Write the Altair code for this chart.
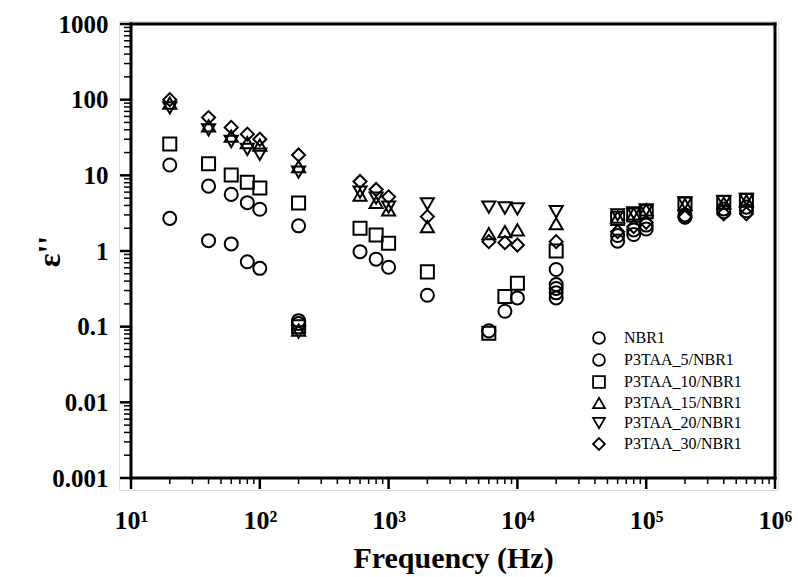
import altair as alt
import pandas as pd

SERIES = ["NBR1", "P3TAA_5/NBR1", "P3TAA_10/NBR1", "P3TAA_15/NBR1", "P3TAA_20/NBR1", "P3TAA_30/NBR1"]
SHAPES = ["circle", "circle", "square", "triangle-up", "triangle-down", "diamond"]

nbr1_f = [20, 40, 60, 80, 100, 200, 20000, 20000, 60000, 80000, 100000, 200000, 400000, 600000]
nbr1_v = [2.7, 1.37, 1.24, 0.72, 0.59, 0.12, 0.36, 0.28, 1.35, 1.65, 1.95, 2.8, 3.3, 3.4]

p5_f = [20, 40, 60, 80, 100, 200, 200, 600, 800, 1000, 2000, 6000, 8000, 10000, 20000, 20000, 20000,
        60000, 80000, 100000, 200000, 400000, 600000]
p5_v = [13.7, 7.2, 5.6, 4.35, 3.56, 2.15, 0.11, 0.98, 0.78, 0.61, 0.26, 0.088, 0.16, 0.24, 0.57, 0.32, 0.24,
        1.6, 1.9, 2.2, 3.0, 3.6, 3.8]

p10_f = [20, 40, 60, 80, 100, 200, 200, 600, 800, 1000, 2000, 6000, 8000, 10000, 20000,
         60000, 80000, 100000, 200000, 400000, 600000]
p10_v = [26, 14.2, 10.1, 8.1, 6.8, 4.3, 0.1, 2.0, 1.63, 1.27, 0.53, 0.082, 0.25, 0.375, 1.0,
         2.7, 3.0, 3.3, 4.2, 4.4, 4.7]

p15_f = [20, 40, 60, 80, 100, 200, 200, 600, 800, 1000, 2000, 6000, 8000, 10000, 20000,
         60000, 80000, 100000, 200000, 400000, 600000]
p15_v = [90, 45, 33, 27, 25, 13, 0.09, 5.5, 4.4, 3.5, 2.1, 1.7, 1.8, 1.9, 2.3,
         2.8, 3.1, 3.5, 4.1, 4.3, 4.6]

p20_f = [20, 40, 60, 80, 100, 200, 200, 600, 800, 1000, 2000, 6000, 8000, 10000, 20000,
         60000, 80000, 100000, 200000, 400000, 600000]
p20_v = [78, 40, 28, 22, 19, 11, 0.085, 6.0, 5.0, 3.8, 4.2, 3.8, 3.7, 3.6, 3.3,
         3.0, 3.2, 3.5, 4.3, 4.5, 4.8]

p30_f = [20, 40, 60, 80, 100, 200, 600, 800, 1000, 2000, 6000, 8000, 10000, 20000,
         60000, 80000, 100000, 200000, 400000, 600000]
p30_v = [100, 58, 43, 35, 30, 18.6, 8.3, 6.5, 5.2, 2.85, 1.33, 1.29, 1.2, 1.33,
         1.8, 2.1, 2.4, 2.8, 3.1, 3.1]

rows = []
for name, fs, vs in zip(SERIES, [nbr1_f, p5_f, p10_f, p15_f, p20_f, p30_f],
                        [nbr1_v, p5_v, p10_v, p15_v, p20_v, p30_v]):
    for f, v in zip(fs, vs):
        rows.append({"freq": f, "eps": v, "sample": name})
df = pd.DataFrame(rows)

X_DOMAIN = [10, 1e6]
Y_DOMAIN = [0.001, 1000]
x_major = [10 ** k for k in range(1, 7)]
x_minor = [a * 10 ** k for k in range(1, 6) for a in range(2, 10)]
y_major = [round(10.0 ** k, 6) for k in range(-3, 4)]
y_minor = [round(a * 10.0 ** k, 6) for k in range(-3, 3) for a in range(2, 10)]
SUP = ["⁰", "¹", "²", "³", "⁴", "⁵", "⁶"]

FONT = "Liberation Serif"
# plot frame inside a slightly larger view so that outward ticks stay inside the view
PW, PH = 644, 454          # frame size
OL, OT, OB, OR = 12, 3, 12, 3   # room for ticks / frame stroke
VW, VH = PW + OL + OR, PH + OT + OB
xs = alt.Scale(type="log", domain=X_DOMAIN, nice=False, range=[OL, OL + PW])
ys = alt.Scale(type="log", domain=Y_DOMAIN, nice=False, range=[OT + PH, OT])

x_axis = alt.Axis(
    values=x_major, orient="bottom", ticks=False, domain=False,
    labelExpr="'10' + " + str(SUP) + "[round(log(datum.value)/LN10)]",
    labelFlush=False, labelOverlap=False, grid=False,
    labelFont=FONT, labelFontWeight="bold", labelFontSize=26, labelColor="black", labelPadding=17,
    title="Frequency (Hz)", titleFont=FONT, titleFontWeight="bold", titleFontSize=30, titleColor="black",
    titleY=77, titleBaseline="alphabetic",
)
y_axis = alt.Axis(
    values=y_major, orient="left", ticks=False, domain=False,
    labelExpr="format(datum.value, '~g')",
    labelFlush=False, labelOverlap=False, grid=False,
    labelFont=FONT, labelFontWeight="bold", labelFontSize=25, labelColor="black", labelPadding=11,
    title="ε''", titleFont=FONT, titleFontWeight="bold", titleFontSize=32, titleColor="black",
    titleAngle=270, titleX=-70, titleY=230, titleAlign="center", titleBaseline="middle",
)

points = alt.Chart(df).mark_point(filled=False, size=170, strokeWidth=2, color="black", opacity=1).encode(
    x=alt.X("freq:Q", scale=xs, axis=x_axis),
    y=alt.Y("eps:Q", scale=ys, axis=y_axis),
    shape=alt.Shape("sample:N", scale=alt.Scale(domain=SERIES, range=SHAPES),
                    legend=alt.Legend(orient="none", legendX=472, legendY=309, title=None,
                                      labelFont=FONT, labelFontSize=16, labelColor="black",
                                      symbolSize=140, symbolStrokeWidth=1.8, symbolStrokeColor="black",
                                      symbolFillColor="transparent", rowPadding=2, labelOffset=17,
                                      padding=0)),
)


def xticks(vals, length, width):
    return alt.Chart(pd.DataFrame({"freq": vals})).mark_rule(color="black", strokeWidth=width).encode(
        x=alt.X("freq:Q", scale=xs, axis=None),
        y=alt.value(OT + PH), y2=alt.value(OT + PH + length),
    )


def yticks(vals, length, width):
    return alt.Chart(pd.DataFrame({"eps": vals})).mark_rule(color="black", strokeWidth=width).encode(
        y=alt.Y("eps:Q", scale=ys, axis=None),
        x=alt.value(OL - length), x2=alt.value(OL),
    )


one = pd.DataFrame({"k": [0]})
frame_h = [
    alt.Chart(one).mark_rule(color="black", strokeWidth=3, strokeCap="square").encode(
        x=alt.X(datum=X_DOMAIN[0], scale=xs, axis=None), x2=alt.X2(datum=X_DOMAIN[1]),
        y=alt.Y(datum=yv, scale=ys, axis=None))
    for yv in Y_DOMAIN
]
frame_v = [
    alt.Chart(one).mark_rule(color="black", strokeWidth=3, strokeCap="square").encode(
        y=alt.Y(datum=Y_DOMAIN[0], scale=ys, axis=None), y2=alt.Y2(datum=Y_DOMAIN[1]),
        x=alt.X(datum=xv, scale=xs, axis=None))
    for xv in X_DOMAIN
]

chart = alt.layer(
    xticks(x_minor, 6, 1.5), xticks(x_major, 11, 2.5),
    yticks(y_minor, 7, 1.5), yticks(y_major, 11, 2.5),
    *frame_h, *frame_v,
    points,
).resolve_axis(x="independent", y="independent").properties(
    width=VW, height=VH,
    padding={"left": 131 - OL, "top": 24 - OT, "right": 798 - (131 - OL) - VW, "bottom": 577 - (24 - OT) - VH},
    autosize=alt.AutoSizeParams(type="none"),
).configure_view(stroke=None, strokeWidth=0).configure(background="white")

chart.save("out.html", embed_options={"renderer": "svg", "actions": False})
